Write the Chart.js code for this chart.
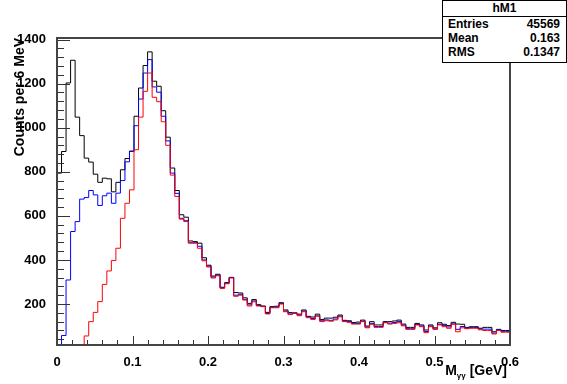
<!DOCTYPE html>
<html>
<head>
<meta charset="utf-8">
<script src="https://cdn.jsdelivr.net/npm/chart.js@4.4.1/dist/chart.umd.min.js"></script>
<style>
  body { margin: 0; background: #fff; }
  #wrap { position: relative; width: 567px; height: 384px; }
  #stats {
    position: absolute; left: 442px; top: 0; width: 123px; height: 61px;
    border: 1px solid #000; background: #fff;
    font: bold 12px "Liberation Sans", Arial, sans-serif; color: #000;
  }
  #stats .head { height: 15px; line-height: 15px; text-align: center; border-bottom: 1px solid #000; }
  #stats .row { display: flex; justify-content: space-between; padding: 0 6px 0 5px; height: 14px; line-height: 14px; }
  #xtitle {
    position: absolute; right: 60px; top: 362px;
    font: bold 14px "Liberation Sans", Arial, sans-serif; color: #000; white-space: nowrap;
  }
  #xtitle sub { font-size: 8px; vertical-align: -3px; }
</style>
</head>
<body>
<div id="wrap">
  <canvas id="histo" width="567" height="384"></canvas>
  <div id="stats">
    <div class="head">hM1</div>
    <div class="row"><span>Entries</span><span>45569</span></div>
    <div class="row"><span>Mean</span><span>0.163</span></div>
    <div class="row"><span>RMS</span><span>0.1347</span></div>
  </div>
  <div id="xtitle">M<sub>γγ</sub> [GeV]</div>
</div>
<script>
// histogram binning: 100 bins of 6 MeV between 0 and 0.6 GeV
const binWidth = 0.006;
const xMin = 0;
const xMax = 0.6;
const yMin = 14;
const yMax = 1407;

const xTickLabels = ['0', '0.1', '0.2', '0.3', '0.4', '0.5', '0.6'];
const yTickLabels = ['200', '400', '600', '800', '1000', '1200', '1400'];

// black: all pairs
const countsAll = [
  295, 794, 892, 1203, 1306, 1048, 964, 862, 844, 789,
  752, 771, 768, 709, 752, 809, 860, 894, 1052, 1180,
  1282, 1344, 1211, 1188, 1077, 957, 817, 715, 605, 594,
  486, 483, 476, 410, 376, 327, 335, 276, 297, 321,
  252, 250, 228, 203, 220, 197, 191, 162, 188, 190,
  206, 173, 161, 160, 154, 173, 144, 141, 154, 130,
  136, 136, 140, 150, 126, 124, 116, 118, 127, 100,
  120, 105, 105, 120, 120, 123, 127, 109, 94, 94,
  112, 105, 82, 105, 92, 115, 108, 102, 117, 109,
  108, 94, 97, 97, 90, 94, 94, 74, 85, 80
];

// blue
const countsCut1 = [
  3, 10, 57, 309, 529, 574, 676, 683, 715, 695,
  647, 691, 703, 657, 703, 760, 845, 892, 1009, 1130,
  1248, 1309, 1185, 1161, 1052, 940, 794, 702, 589, 578,
  478, 478, 462, 400, 372, 322, 331, 273, 294, 320,
  240, 244, 221, 196, 214, 193, 189, 157, 185, 186,
  202, 168, 155, 158, 150, 168, 141, 134, 146, 124,
  128, 126, 132, 145, 122, 120, 112, 112, 122, 95,
  112, 98, 98, 117, 113, 116, 120, 104, 88, 88,
  107, 100, 75, 100, 87, 108, 102, 96, 110, 85,
  98, 90, 93, 93, 86, 86, 86, 68, 82, 76
];

// red
const countsCut2 = [
  0, 0, 0, 0, 0, 0, 0, 55, 120, 162,
  211, 289, 350, 397, 453, 589, 657, 718, 900, 1048,
  1165, 1248, 1138, 1118, 1027, 920, 785, 688, 585, 574,
  476, 476, 453, 396, 368, 318, 328, 271, 292, 318,
  235, 240, 218, 191, 210, 191, 188, 155, 183, 183,
  200, 165, 152, 158, 147, 165, 138, 130, 145, 120,
  124, 122, 128, 142, 120, 117, 109, 109, 120, 92,
  108, 94, 94, 115, 109, 112, 115, 101, 85, 85,
  105, 97, 70, 97, 85, 105, 97, 90, 108, 74,
  92, 88, 90, 90, 83, 80, 80, 64, 80, 72
];

// left bin edges + closing point, values below the axis floor drawn on it (ROOT style)
function toSteps(counts) {
  const pts = counts.map((v, i) => ({ x: xMin + i * binWidth, y: Math.max(v, yMin) }));
  pts.push({ x: xMax, y: Math.max(counts[counts.length - 1], yMin) });
  return pts;
}

// frame + inside ticks like ROOT
const rootFrame = {
  id: 'rootFrame',
  afterDatasetsDraw(chart) {
    const ctx = chart.ctx;
    const a = chart.chartArea;
    const xs = chart.scales.x;
    const ys = chart.scales.y;
    ctx.save();
    ctx.strokeStyle = '#333';
    ctx.lineWidth = 1;
    ctx.beginPath();
    for (let v = 0; v <= 0.6001; v += 0.02) {
      const px = Math.round(xs.getPixelForValue(v)) + 0.5;
      const major = Math.abs(v * 10 - Math.round(v * 10)) < 1e-6;
      ctx.moveTo(px, a.bottom);
      ctx.lineTo(px, a.bottom - (major ? 9 : 5));
    }
    for (let v = 40; v <= 1400; v += 40) {
      const py = Math.round(ys.getPixelForValue(v)) + 0.5;
      const major = v % 200 === 0;
      ctx.moveTo(a.left, py);
      ctx.lineTo(a.left + (major ? 13 : 7), py);
    }
    ctx.stroke();
    ctx.strokeStyle = '#444';
    ctx.lineWidth = 2;
    ctx.strokeRect(a.left, a.top, a.right - a.left, a.bottom - a.top);
    ctx.restore();
  }
};

const tickFont = { family: '"Liberation Sans", Arial, sans-serif', size: 13, weight: 'bold' };

const ctx = document.getElementById('histo').getContext('2d');
new Chart(ctx, {
  type: 'line',
  data: {
    datasets: [
      { label: 'all', data: toSteps(countsAll), borderColor: '#000000', order: 3 },
      { label: 'cut1', data: toSteps(countsCut1), borderColor: '#0000ff', order: 2 },
      { label: 'cut2', data: toSteps(countsCut2), borderColor: '#ff0000', order: 1 }
    ].map(d => Object.assign(d, { stepped: 'after', borderWidth: 1, pointRadius: 0, fill: false }))
  },
  options: {
    responsive: false,
    animation: false,
    layout: { padding: { top: 38, right: 57, left: 0, bottom: 0 } },
    plugins: { legend: { display: false }, tooltip: { enabled: false } },
    scales: {
      x: {
        type: 'linear',
        min: xMin,
        max: xMax,
        grid: { display: false },
        border: { display: false },
        afterFit: s => { s.height = 39; },
        afterBuildTicks: s => { s.ticks = xTickLabels.map(t => ({ value: parseFloat(t) })); },
        ticks: {
          color: '#000', font: tickFont, padding: 2, maxRotation: 0, autoSkip: false,
          callback: (v, i) => xTickLabels[i]
        }
      },
      y: {
        type: 'linear',
        min: yMin,
        max: yMax,
        grid: { display: false },
        border: { display: false },
        afterFit: s => { s.width = 57; },
        afterBuildTicks: s => { s.ticks = yTickLabels.map(t => ({ value: parseFloat(t) })); },
        ticks: {
          color: '#000', font: tickFont, padding: 3, autoSkip: false,
          callback: (v, i) => yTickLabels[i]
        },
        title: {
          display: true,
          text: 'Counts per 6 MeV',
          align: 'end',
          color: '#000',
          font: { family: '"Liberation Sans", Arial, sans-serif', size: 14, weight: 'bold' },
          padding: { top: 12, bottom: 0 }
        }
      }
    }
  },
  plugins: [rootFrame]
});
</script>
</body>
</html>
